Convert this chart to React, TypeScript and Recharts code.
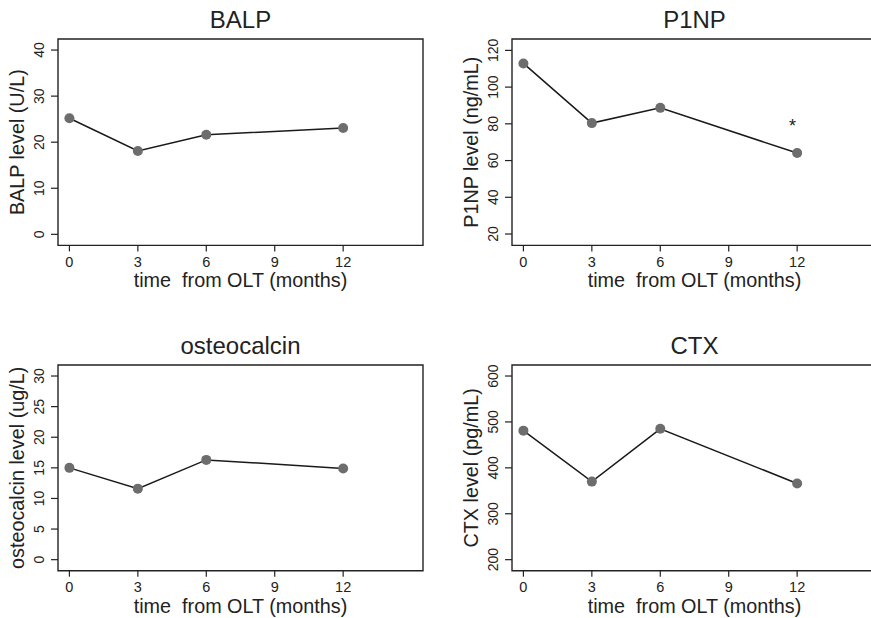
import React from 'react';
import { LineChart, Line, XAxis, YAxis, ReferenceArea, ReferenceDot } from 'recharts';

// time points (months after OLT)
const months = [0, 3, 6, 12];
const xTicks = [0, 3, 6, 9, 12];
const xDomain = [-0.5, 15.5];

const balpValues = [25.2, 18.1, 21.6, 23.1];
const balpTicks = [0, 10, 20, 30, 40];
const balpDomain = [-2.4, 42.4];

const p1npValues = [112.9, 80.4, 88.7, 64.1];
const p1npTicks = [20, 40, 60, 80, 100, 120];
const p1npDomain = [13.8, 126.2];
const p1npStar = { month: 11.8, value: 81 };

const osteoValues = [15.0, 11.6, 16.3, 14.9];
const osteoTicks = [0, 5, 10, 15, 20, 25, 30];
const osteoDomain = [-1.8, 31.8];

const ctxValues = [481, 370, 485, 366];
const ctxTicks = [200, 300, 400, 500, 600];
const ctxDomain = [176, 624];

const INK = '#222';
const DOT = '#6d6d6f';

const YTick = (props: any) => {
    const { x, y, payload } = props;
    return (
        <text x={x} y={y} transform={`rotate(-90 ${x} ${y})`} textAnchor="middle" fontSize={14} fill={INK}>
            {payload.value}
        </text>
    );
};

type PanelProps = {
    left: number;
    top: number;
    plotH: number;
    title: string;
    yLabel: string;
    values: number[];
    ticks: number[];
    domain: number[];
    star?: { month: number; value: number };
};

const Panel = ({ left, top, plotH, title, yLabel, values, ticks, domain, star }: PanelProps) => {
    const data = months.map((m, i) => ({ month: m, value: values[i] }));
    const plotW = 365;
    const w = plotW + 58 + 12;
    const h = plotH + 40 + 54;

    return (
        <div style={{ position: 'absolute', left: left - 58, top: top - 40, width: w, height: h }}>
            <LineChart width={w} height={h} data={data} margin={{ top: 40, right: 12, bottom: 10, left: 8 }}>
                <XAxis
                    type="number"
                    dataKey="month"
                    domain={xDomain}
                    ticks={xTicks}
                    interval={0}
                    allowDataOverflow
                    axisLine={false}
                    tickLine={{ stroke: INK, strokeWidth: 1.2 }}
                    tickSize={6}
                    tickMargin={5}
                    tick={{ fontSize: 14.5, fill: INK }}
                    height={44}
                    label={(p: any) => {
                        const vb = p.viewBox;
                        return (
                            <text x={vb.x + vb.width / 2} y={vb.y + 42} textAnchor="middle" fontSize={19.8} fill={INK} style={{ whiteSpace: 'pre' }}>
                                time  from OLT (months)
                            </text>
                        );
                    }}
                />
                <YAxis
                    type="number"
                    domain={domain}
                    ticks={ticks}
                    interval={0}
                    allowDataOverflow
                    axisLine={false}
                    tickLine={{ stroke: INK, strokeWidth: 1.2 }}
                    tickSize={7}
                    tickMargin={7}
                    tick={<YTick />}
                    width={50}
                    label={(p: any) => {
                        const vb = p.viewBox;
                        const lx = vb.x + vb.width - 34;
                        const ly = vb.y + vb.height / 2;
                        return (
                            <text x={lx} y={ly} transform={`rotate(-90 ${lx} ${ly})`} textAnchor="middle" fontSize={19.8} fill={INK}>
                                {yLabel}
                            </text>
                        );
                    }}
                />
                <ReferenceArea
                    x1={xDomain[0]}
                    x2={xDomain[1]}
                    y1={domain[0]}
                    y2={domain[1]}
                    fill="none"
                    fillOpacity={0}
                    stroke={INK}
                    strokeWidth={1.4}
                    label={{ value: title, position: 'top', offset: 11, fontSize: 24, fill: INK }}
                />
                <Line
                    dataKey="value"
                    stroke="#1a1a1a"
                    strokeWidth={1.5}
                    dot={{ r: 5, fill: DOT, stroke: 'none' }}
                    activeDot={false}
                    isAnimationActive={false}
                />
                {star && (
                    <ReferenceDot
                        x={star.month}
                        y={star.value}
                        r={0}
                        shape={(s: any) => (
                            <text x={s.cx} y={s.cy} dy={10} textAnchor="middle" fontSize={18} fill={INK}>
                                *
                            </text>
                        )}
                    />
                )}
            </LineChart>
        </div>
    );
};

const App = () => {
    return (
        <div
            style={{
                position: 'absolute',
                left: 0,
                top: 0,
                width: 871,
                height: 618,
                overflow: 'hidden',
                background: '#fff',
                fontFamily: '"Liberation Sans", Arial, Helvetica, sans-serif',
            }}
        >
            <Panel left={58.3} top={39.3} plotH={206.4} title="BALP" yLabel="BALP level (U/L)" values={balpValues} ticks={balpTicks} domain={balpDomain} />
            <Panel left={512.3} top={39.3} plotH={206.4} title="P1NP" yLabel="P1NP level (ng/mL)" values={p1npValues} ticks={p1npTicks} domain={p1npDomain} star={p1npStar} />
            <Panel left={58.3} top={365.3} plotH={205.7} title="osteocalcin" yLabel="osteocalcin level (ug/L)" values={osteoValues} ticks={osteoTicks} domain={osteoDomain} />
            <Panel left={512.3} top={365.3} plotH={205.7} title="CTX" yLabel="CTX level (pg/mL)" values={ctxValues} ticks={ctxTicks} domain={ctxDomain} />
        </div>
    );
};

export default App;
